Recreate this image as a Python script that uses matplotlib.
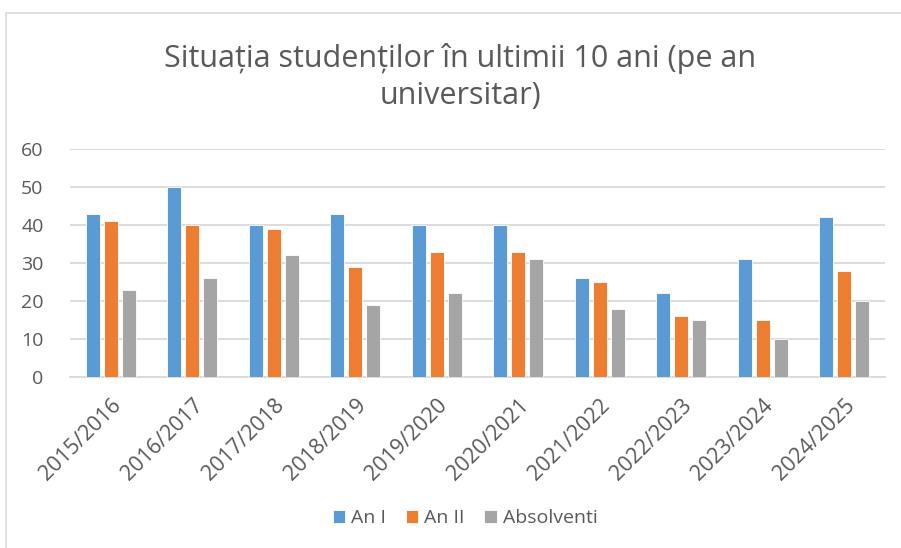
import numpy as np
import matplotlib
matplotlib.use('Agg')
import matplotlib.pyplot as plt
from matplotlib.patches import Rectangle

plt.rcParams['font.family'] = ['Liberation Sans Narrow', 'Open Sans', 'DejaVu Sans']

years = ['2015/2016', '2016/2017', '2017/2018', '2018/2019', '2019/2020',
         '2020/2021', '2021/2022', '2022/2023', '2023/2024', '2024/2025']
an_1 = [43, 50, 40, 43, 40, 40, 26, 22, 31, 42]
an_2 = [41, 40, 39, 29, 33, 33, 25, 16, 15, 28]
absolventi = [23, 26, 32, 19, 22, 31, 18, 15, 10, 20]

series = [('An I', an_1, '#5B9BD5'),
          ('An II', an_2, '#ED7D31'),
          ('Absolventi', absolventi, '#A5A5A5')]

txt = '#595959'

fig = plt.figure(figsize=(9.01, 5.48), dpi=100)
ax = fig.add_axes([70/901, 1 - 377/548, 815/901, 228/548])

# chart border (only top/left visible in the original crop)
fig.patches.append(Rectangle((6/901, -0.1), 1.2, 1 - 13/548 + 0.1,
                             transform=fig.transFigure, fill=False,
                             edgecolor='#D9D9D9', lw=1.2))

x = np.arange(len(years))
w = 0.172
step = 0.221
for i, (name, vals, col) in enumerate(series):
    ax.bar(x + (i - 1) * step, vals, width=w, color=col, label=name,
           edgecolor='white', linewidth=0.6, zorder=3)

ax.set_xlim(-0.5, len(years) - 0.5)
ax.set_ylim(0, 60)
ax.set_yticks(range(0, 61, 10))
ax.yaxis.grid(True, color='#D9D9D9', lw=1.3, zorder=0)
ax.set_axisbelow(True)
for s in ['top', 'right', 'left']:
    ax.spines[s].set_visible(False)
ax.spines['bottom'].set_color('#D9D9D9')
ax.spines['bottom'].set_linewidth(1.3)
ax.tick_params(axis='both', length=0, colors=txt)
ax.tick_params(axis='y', pad=19, labelsize=14)
ax.tick_params(axis='x', pad=13, labelsize=15.5)
ax.set_xticks(x)
ax.set_xticklabels(years, rotation=45, ha='right', rotation_mode='anchor')

fig.text(460/901, 1 - 77/548, 'Situația studenților în ultimii 10 ani (pe an\nuniversitar)',
         ha='center', va='center', fontsize=22, color=txt, linespacing=1.3)

fig.legend(loc='center', bbox_to_anchor=(465/901, 1 - 518/548), ncol=3, frameon=False,
           fontsize=14, handlelength=0.65, handleheight=0.65, handletextpad=0.3,
           columnspacing=1.0, labelcolor=txt)

fig.savefig('out.png', dpi=100)
